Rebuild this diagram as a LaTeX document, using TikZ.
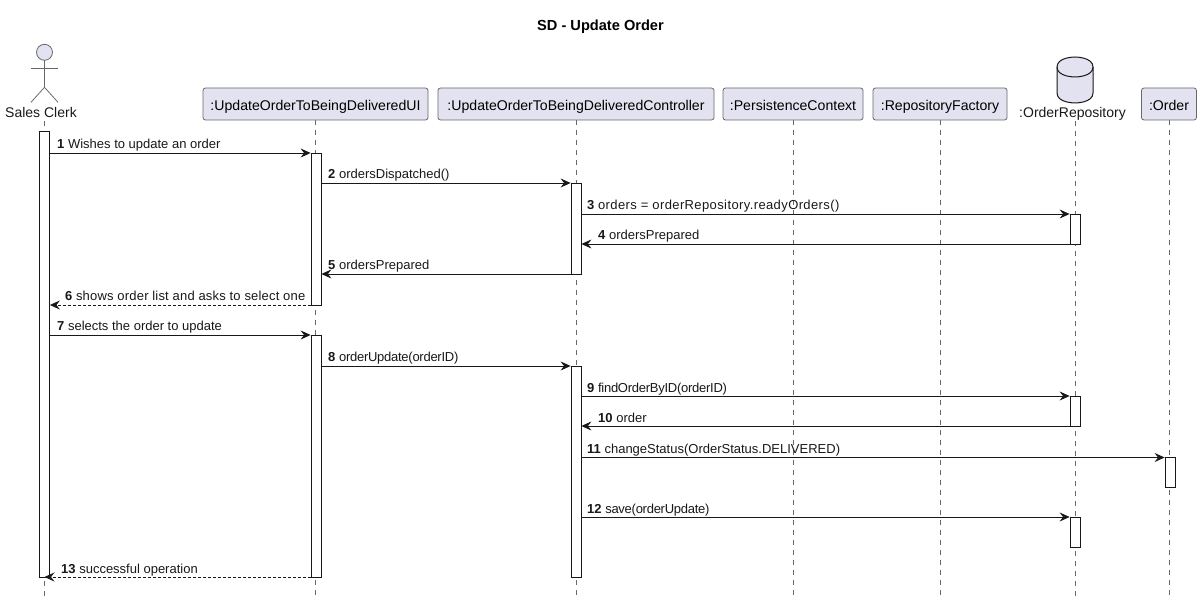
\documentclass[tikz,border=0pt]{standalone}
\usepackage{fontspec}
\setmainfont{Liberation Sans}
\usetikzlibrary{arrows.meta}
\definecolor{mlilac}{HTML}{E2E2F0}
\definecolor{mink}{HTML}{181818}
\tikzset{head/.style = {draw=mink!65, fill=mlilac, rounded corners=2.5, line width=0.8, inner sep=0, minimum height=32, text height=13, text depth=0, font=\fontsize{14.1}{16}\selectfont}}
\tikzset{plainlabel/.style = {inner sep=0, text=mink, text height=13, text depth=0, font=\fontsize{14}{16}\selectfont}}
\tikzset{lifeline/.style = {draw=mink!65, line width=0.7, dash pattern=on 5 off 5}}
\tikzset{bar/.style = {draw=mink, fill=white, line width=0.8, inner sep=0, minimum width=10}}
\tikzset{msg/.style = {draw=mink, line width=0.8, -{Stealth[length=10, width=9, inset=3.5]}}}
\tikzset{msgback/.style = {msg, densely dashed}}
\tikzset{msglabel/.style = {anchor=base west, inner sep=0, text=mink, yshift=4, font=\fontsize{13}{15}\selectfont}}

\begin{document}
\begin{tikzpicture}[x=1pt, y=-1pt]
    \useasboundingbox (0, 0) rectangle (1202, 601);

    \node [inner sep=0, font=\bfseries\fontsize{14.6}{16}\selectfont] (title) at (600.5, 26.5) {SD - Update Order};

    \coordinate (bottom) at (0, 596);

    \node [head, minimum width=225] (ui) at (315.5, 104) {:UpdateOrderToBeingDeliveredUI};
    \node [head, minimum width=276] (ctrl) at (576, 104) {:UpdateOrderToBeingDeliveredController};
    \node [head, minimum width=140] (ctx) at (793, 104) {:PersistenceContext};
    \node [head, minimum width=134] (factory) at (940, 104) {:RepositoryFactory};
    \node [head, minimum width=55] (order) at (1169, 104) {:Order};
    \node [plainlabel] (clerk) at (41, 111.5) {Sales Clerk};
    \node [plainlabel] (repo) at (1072.5, 111.5) {:OrderRepository};

    \coordinate (clerktop) at (44.5, 121);
    \coordinate (repotop) at (1075, 121);
    \foreach \who in {clerktop, ui, ctrl, ctx, factory, repotop, order}
      \draw [lifeline] (\who) -- (\who |- bottom);

    \begin{scope}[draw=mink!65, line width=0.8]
      \draw [fill=mlilac] (44.5, 52.3) circle [radius=8];
      \draw (44.5, 60.3) -- (44.5, 87.3) (31, 68.3) -- (58, 68.3);
      \draw (31, 102.3) -- (44.5, 87.3) -- (58, 102.3);
    \end{scope}

    \begin{scope}[shift={(1075, 0)}, draw=mink, line width=1]
      \draw [fill=mlilac] (-18, 67) .. controls (-18, 57) and (0, 57) .. (0, 57) .. controls (0, 57) and (18, 57) .. (18, 67)
        -- (18, 93) .. controls (18, 103) and (0, 103) .. (0, 103) .. controls (0, 103) and (-18, 103) .. (-18, 93) -- cycle;
      \draw (-18, 67) .. controls (-18, 77) and (0, 77) .. (0, 77) .. controls (0, 77) and (18, 77) .. (18, 67);
    \end{scope}

    \foreach \name/\x/\top/\bot in {clerkbar/44.5/131/577, uibara/316/153/305, ctrlbara/576/183/274, repobara/1075/214/244,
                                    uibarb/316/335/577, ctrlbarb/576/366/577, repobarb/1075/396/426, orderbar/1170/457.5/487.5,
                                    repobarc/1075/517/547}
      \node [bar, minimum height={(\bot-\top)*1pt}] (\name) at (\x, {(\top+\bot)/2}) {};

    \foreach \n/\from/\to/\yy/\lx/\kind/\txt in {1/clerkbar.east/uibara.west/153/57/msg/{Wishes to update an order},
        2/uibara.east/ctrlbara.west/183/328/msg/{ordersDispatched()},
        3/ctrlbara.east/repobara.west/214/587/msg/{\addfontfeature{LetterSpace=3}orders = orderRepository.readyOrders()},
        4/repobara.west/ctrlbara.east/244/598/msg/{ordersPrepared},
        5/ctrlbara.west/uibara.east/274/328/msg/{ordersPrepared},
        6/uibara.west/clerkbar.east/305/65/msgback/{\addfontfeature{LetterSpace=1.5}shows order list and asks to select one},
        7/clerkbar.east/uibarb.west/335/57/msg/{selects the order to update},
        8/uibarb.east/ctrlbarb.west/366/328/msg/{\addfontfeature{LetterSpace=-2}orderUpdate(orderID)},
        9/ctrlbarb.east/repobarb.west/396/587/msg/{\addfontfeature{LetterSpace=-2}findOrderByID(orderID)},
        10/repobarb.west/ctrlbarb.east/426/598/msg/{order},
        11/ctrlbarb.east/orderbar.west/457.5/587/msg/{changeStatus(OrderStatus.DELIVERED)},
        12/ctrlbarb.east/repobarc.west/517/587/msg/{\addfontfeature{LetterSpace=-2}save(orderUpdate)},
        13/uibarb.west/clerkbar.center/577/61/msgback/{successful operation}} {
      \draw [\kind] (\from |- 0, \yy) -- (\to |- 0, \yy);
      \node [msglabel] (label\n) at (\lx, \yy) {\textbf{\n} \txt};
    }
  \end{tikzpicture}
\end{document}
